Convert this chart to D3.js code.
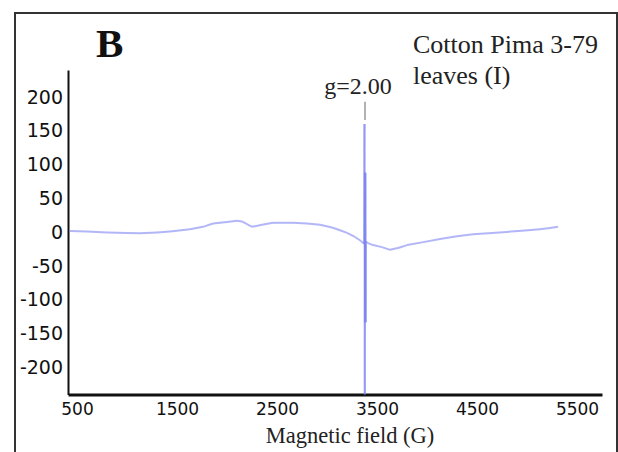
<!DOCTYPE html>
<html>
<head>
<meta charset="utf-8">
<script src="https://cdn.jsdelivr.net/npm/d3@7"></script>
<style>
  body { margin: 0; background: #fff; }
  svg { display: block; }
</style>
</head>
<body>
<div id="chart"></div>
<script>
// EPR spectrum, cotton Pima 3-79 leaves (I)
const field = [430, 600, 800, 1000, 1130, 1300, 1430, 1630, 1760, 1860, 2000, 2100, 2150, 2200, 2250,
  2350, 2460, 2660, 2800, 2930, 3050, 3130, 3200, 3280, 3340, 3370,
  3375, 3378, 3380, 3382, 3384, 3386, 3388,
  3410, 3460, 3550, 3630, 3720, 3800, 3950, 4130, 4300, 4460, 4650, 4800, 4980, 5130, 5250, 5310]
const signal = [2, 1, -0.5, -1, -1.5, -0.5, 1, 4.5, 8, 13, 15, 17, 16, 12, 8,
  11, 14, 14, 13, 11, 7, 3, -1, -7, -13, -17,
  160, -240, 88, -133, 88, -133, -14,
  -16, -19, -22, -26, -23, -19, -15, -10, -6, -3, -1, 0.5, 2.5, 4.5, 6.5, 8]

const xTicks = [500, 1500, 2500, 3500, 4500, 5500]
const yTicks = [200, 150, 100, 50, 0, -50, -100, -150, -200]
const gField = 3380
const gMarker = [193, 166]

const W = 618, H = 452
const svg = d3.select("#chart").append("svg")
  .attr("width", W)
  .attr("height", H)

// outer frame
svg.append("rect")
  .attr("x", 15).attr("y", 13)
  .attr("width", 602).attr("height", 470)
  .attr("fill", "none")
  .attr("stroke", "#333")
  .attr("stroke-width", 2)

const x = d3.scaleLinear().domain([410, 5750]).range([68, 602])
const y = d3.scaleLinear().domain([-240, 240]).range([394.5, 70])

// axes (plain hyphen for negatives, like the original)
svg.append("g")
  .attr("transform", `translate(0, ${y(-240)})`)
  .call(d3.axisBottom(x).tickValues(xTicks).tickSize(0).tickPadding(8).tickFormat(d => String(d)))
  .call(g => g.select(".domain").attr("stroke", "#111").attr("stroke-width", 3))
  .call(g => g.selectAll("text").attr("font-family", "DejaVu Sans").attr("font-size", 17).attr("fill", "#111"))

svg.append("g")
  .attr("transform", `translate(${x(410)}, 0)`)
  .call(d3.axisLeft(y).tickValues(yTicks).tickSize(0).tickPadding(5).tickFormat(d => String(d)))
  .call(g => g.select(".domain").attr("stroke", "#111").attr("stroke-width", 2))
  .call(g => g.selectAll("text").attr("font-family", "DejaVu Sans").attr("font-size", 19).attr("fill", "#111"))

// spectrum, drawn segment by segment so overlapping strokes darken
const pts = field.map((f, i) => [f, signal[i]])
svg.append("g")
  .selectAll("line")
  .data(d3.pairs(pts))
  .join("line")
    .attr("x1", d => x(d[0][0]))
    .attr("y1", d => y(d[0][1]))
    .attr("x2", d => x(d[1][0]))
    .attr("y2", d => y(d[1][1]))
    .attr("stroke", "#7f86f2")
    .attr("stroke-width", 2)
    .attr("stroke-opacity", 0.6)

// g-value marker
svg.append("line")
  .attr("x1", x(gField)).attr("x2", x(gField))
  .attr("y1", y(gMarker[0])).attr("y2", y(gMarker[1]))
  .attr("stroke", "#999")
  .attr("stroke-width", 1.5)

svg.append("text")
  .attr("x", x(gField) - 7)
  .attr("y", y(204))
  .attr("text-anchor", "middle")
  .attr("font-family", "Liberation Serif")
  .attr("font-size", 24)
  .attr("fill", "#222")
  .text("g=2.00")

// labels
svg.append("text")
  .attr("x", 96).attr("y", 57)
  .attr("font-family", "Liberation Serif")
  .attr("font-weight", "bold")
  .attr("font-size", 41)
  .attr("fill", "#111")
  .text("B")

svg.append("text")
  .attr("x", 413).attr("y", 53)
  .attr("font-family", "Liberation Serif")
  .attr("font-size", 26)
  .attr("fill", "#222")
  .text("Cotton Pima 3-79")

svg.append("text")
  .attr("x", 413).attr("y", 84)
  .attr("font-family", "Liberation Serif")
  .attr("font-size", 26)
  .attr("fill", "#222")
  .text("leaves (I)")

svg.append("text")
  .attr("x", 350).attr("y", 443)
  .attr("text-anchor", "middle")
  .attr("font-family", "Liberation Serif")
  .attr("font-size", 22.5)
  .attr("fill", "#222")
  .text("Magnetic field (G)")
</script>
</body>
</html>
